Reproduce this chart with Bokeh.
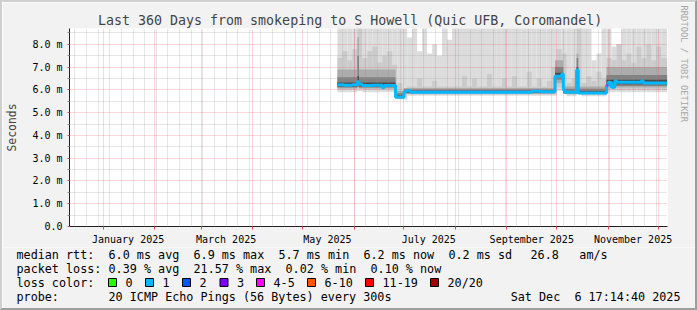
import numpy as np
import pandas as pd
from bokeh.plotting import figure
from bokeh.layouts import column
from bokeh.models import FixedTicker, Range1d, Title
from bokeh.embed import file_html
from bokeh.resources import INLINE
from bokeh.core.properties import value

# ---------------- data ----------------
graph_start = "2024-12-11 17:14:40"
graph_end = "2025-12-06 17:14:40"
title = "Last 360 Days from smokeping to S Howell (Quic UFB, Coromandel)"
watermark = "RRDTOOL / TOBI OETIKER"

y_ticks = [0, 1, 2, 3, 4, 5, 6, 7, 8]
y_minor = [0.5, 1.5, 2.5, 3.5, 4.5, 5.5, 6.5, 7.5, 8.5]
y_tick_labels = ["0.0", "1.0 m", "2.0 m", "3.0 m", "4.0 m", "5.0 m", "6.0 m", "7.0 m", "8.0 m"]
month_labels = ["January 2025", "March 2025", "May 2025", "July 2025",
                "September 2025", "November 2025"]
month_label_dates = ["2025-01-16", "2025-03-16", "2025-05-16", "2025-07-16",
                     "2025-09-16", "2025-11-16"]

# median RTT (ms): value from each date until the next
med_dates = ["2025-05-22", "2025-05-26", "2025-05-31", "2025-06-03", "2025-06-04",
             "2025-06-06", "2025-06-12", "2025-06-18", "2025-06-19", "2025-06-26",
             "2025-07-01", "2025-07-02", "2025-07-05", "2025-09-16", "2025-09-22",
             "2025-09-30", "2025-10-04", "2025-10-05", "2025-10-06", "2025-10-13",
             "2025-10-14", "2025-10-31", "2025-11-01", "2025-11-03", "2025-11-05",
             "2025-11-06", "2025-11-21", "2025-11-22"]
med_values = [6.22, 6.20, 6.23, 6.36, 6.25,
              6.19, 6.20, 6.09, 6.19, 5.68,
              5.90, 5.96, 5.90, 5.94, 5.92,
              6.60, 6.70, 6.00, 5.90, 6.87,
              5.86, 6.20, 6.32, 6.12, 6.40,
              6.33, 6.40, 6.30]
med_loss = [1, 1, 1, 1, 1, 1, 1, 1, 1, 1, 1, 1, 1, 1, 1, 1, 1, 1, 1, 1,
            1, 4, 1, 1, 1, 1, 1, 1]
data_end = "2025-12-06 12:00"

# smoke (sorted pings, ms) for spans of similar behaviour
smoke_dates = ["2025-05-22", "2025-06-03", "2025-06-04", "2025-06-26", "2025-07-01",
               "2025-09-30", "2025-10-05", "2025-10-13", "2025-10-14", "2025-10-31"]
ping1 = [5.90, 5.95, 5.90, 5.58, 5.74, 5.95, 5.72, 5.80, 5.72, 5.90]
ping3 = [6.00, 6.05, 6.00, 5.62, 5.80, 6.10, 5.78, 5.90, 5.78, 6.00]
ping5 = [6.06, 6.10, 6.06, 5.64, 5.83, 6.30, 5.82, 6.00, 5.82, 6.10]
ping7 = [6.10, 6.15, 6.10, 5.66, 5.85, 6.45, 5.85, 6.20, 5.85, 6.17]
ping9 = [6.15, 6.25, 6.15, 5.67, 5.87, 6.55, 5.86, 6.50, 5.86, 6.25]
ping12 = [6.32, 6.60, 6.32, 5.75, 5.96, 6.75, 5.95, 7.00, 5.95, 6.45]
ping15 = [6.55, 7.50, 6.55, 5.85, 6.02, 7.00, 6.05, 7.40, 6.05, 6.65]
ping17 = [6.90, 8.30, 6.90, 5.95, 6.08, 7.30, 6.15, 7.60, 6.15, 7.00]

# 3-day buckets starting 2025-05-22: second highest and highest ping (ms)
bucket_start = "2025-05-22"
ping19 = [7.4, 7.7, 7.3, 7.8, 8.7, 7.4, 7.7, 7.9, 7.2, 7.5,
          7.7, 7.1, 6.3, 6.0, 6.15, 6.15, 6.5, 6.15, 6.15, 6.4,
          6.15, 6.15, 6.15, 6.15, 6.15, 6.6, 6.15, 6.5, 6.15, 6.15,
          6.7, 6.15, 6.15, 6.5, 6.15, 6.6, 6.15, 6.15, 6.8, 6.15,
          6.5, 6.15, 6.4, 7.0, 7.8, 7.6, 6.3, 6.5, 8.7, 6.3,
          6.6, 6.4, 6.8, 6.5, 7.4, 7.3, 8.0, 7.3, 7.6, 7.2,
          7.9, 7.4, 8.0, 7.3, 7.9, 7.4]
ping20 = [9.0, 9.0, 9.0, 9.0, 9.0, 9.0, 9.0, 9.0, 9.0, 9.0,
          9.0, 9.0, 9.0, 9.0, 8.3, 9.0, 7.7, 9.0, 7.6, 8.0,
          7.5, 9.0, 8.2, 9.0, 9.0, 9.0, 9.0, 9.0, 9.0, 9.0,
          9.0, 9.0, 9.0, 9.0, 9.0, 9.0, 9.0, 9.0, 9.0, 9.0,
          9.0, 9.0, 9.0, 9.0, 9.0, 9.0, 9.0, 9.0, 9.0, 9.0,
          9.0, 7.3, 7.6, 9.0, 9.0, 7.9, 8.0, 9.0, 9.0, 9.0,
          9.0, 9.0, 9.0, 9.0, 9.0, 9.0]

loss_labels = ["0", "1", "2", "3", "4-5", "6-10", "11-19", "20/20"]
loss_colors = ["#26ff00", "#00b8ff", "#0059ff", "#7e00ff", "#ff00ff", "#ff5500",
               "#ff0000", "#a10000"]

legend_rtt = ["median rtt:", "6.0 ms avg", "6.9 ms max", "5.7 ms min", "6.2 ms now",
              "0.2 ms sd", "26.8", "am/s"]
legend_loss = ["packet loss:", "0.39 % avg", "21.57 % max", "0.02 % min", "0.10 % now"]
legend_color = ["loss color:"]
legend_probe = ["probe:", "20 ICMP Echo Pings (56 Bytes) every 300s"]
legend_date = "Sat Dec  6 17:14:40 2025"


def to_ms(values):
    return (pd.to_datetime(values).asi8 // 10**6).astype(float)


MONO = "DejaVu Sans Mono"
BG = "#f2f2f2"

# ---------------- main graph ----------------
t0, t1 = to_ms([graph_start, graph_end])
pa = figure(width=693, height=245, output_backend="svg", toolbar_location=None,
            x_range=Range1d(t0, t1), y_range=Range1d(0, 200 / 23),
            min_border_left=65, min_border_right=28, min_border_top=26,
            min_border_bottom=19)
pa.background_fill_color = "white"
pa.border_fill_color = BG
pa.outline_line_color = None

pa.title.text = title
pa.title.text_font = MONO
pa.title.text_font_size = "13.3px"
pa.title.text_font_style = "normal"
pa.title.align = "left"
pa.title.offset = 28.5
pa.title.standoff = 2
# an empty spacer pushes the watermark towards the outer edge
pa.add_layout(Title(text="\u00a0", text_font_size="1px", standoff=5), "right")
pa.add_layout(Title(text=watermark, text_font=MONO, text_font_size="8.8px",
                    text_font_style="normal", text_color="#a8a8a8", align="left",
                    vertical_align="top", offset=-23, standoff=2), "right")

# smoke
sm_left = to_ms(smoke_dates)
sm_right = np.append(sm_left[1:], to_ms([data_end]))
bk_left = to_ms(pd.date_range(bucket_start, periods=len(ping20), freq="3D"))
bk_right = np.append(bk_left[1:], to_ms([data_end]))
idx = np.searchsorted(sm_left, bk_left, side="right") - 1
pa.quad(left=bk_left, right=bk_right, bottom=np.array(ping1)[idx], top=ping20,
        fill_color="#dcdcdc", line_color=None)
pa.quad(left=bk_left, right=bk_right, bottom=np.array(ping3)[idx], top=ping19,
        fill_color="#cbcbcb", line_color=None)
for lo, hi, col in [(ping5, ping17, "#acacac"), (ping7, ping15, "#828282"),
                    (ping9, ping12, "#4a4a4a")]:
    pa.quad(left=sm_left, right=sm_right, bottom=lo, top=hi, fill_color=col,
            line_color=None)

# median line coloured by loss
md_left = to_ms(med_dates)
md_right = np.append(md_left[1:], to_ms([data_end]))
r = pa.step(x=np.append(md_left, md_right[-1]), y=med_values + [med_values[-1]],
            mode="after", line_color=loss_colors[1], line_width=3)
r.level = "overlay"
oth = [i for i, c in enumerate(med_loss) if c != 1]
r2 = pa.segment(x0=md_left[oth], x1=md_right[oth], y0=np.array(med_values)[oth],
                y1=np.array(med_values)[oth],
                line_color=[loss_colors[med_loss[i]] for i in oth], line_width=3)
r2.level = "overlay"

# grids
month_starts = to_ms(pd.date_range("2025-01-01", "2025-12-01", freq="MS"))
weeks = to_ms(pd.date_range("2024-12-15", "2025-12-06", freq="7D"))
pa.xgrid.ticker = FixedTicker(ticks=list(month_starts), minor_ticks=list(weeks))
pa.ygrid.ticker = FixedTicker(ticks=y_ticks, minor_ticks=y_minor)
for g in (pa.xgrid, pa.ygrid):
    g.level = "annotation"
    g.grid_line_color = "#de4f4f"
    g.grid_line_alpha = 0.45
    g.grid_line_dash = "1 1"
    g.minor_grid_line_color = "#8f8f8f"
    g.minor_grid_line_alpha = 0.45
    g.minor_grid_line_dash = "1 1"

# axes
xa = pa.xaxis[0]
label_ms = to_ms(month_label_dates)
xa.ticker = FixedTicker(ticks=list(label_ms), minor_ticks=list(month_starts))
xa.major_label_overrides = {float(v): s for v, s in zip(label_ms, month_labels)}
xa.major_tick_out = 0
xa.major_tick_in = 0
xa.minor_tick_out = 3
xa.minor_tick_in = 0
xa.minor_tick_line_color = "#de4f4f"
xa.major_label_standoff = 4
ya = pa.yaxis[0]
ya.ticker = FixedTicker(ticks=y_ticks, minor_ticks=y_minor)
ya.major_label_overrides = {v: s for v, s in zip(y_ticks, y_tick_labels)}
ya.major_tick_out = 2
ya.major_tick_in = 0
ya.minor_tick_out = 2
ya.minor_tick_in = 0
ya.major_tick_line_color = "#de4f4f"
ya.minor_tick_line_color = "#8f8f8f"
ya.major_label_standoff = 5
ya.axis_label = "Seconds"
ya.axis_label_standoff = 10
ya.axis_label_text_font = MONO
ya.axis_label_text_font_size = "11.4px"
ya.axis_label_text_font_style = "normal"
for ax in (xa, ya):
    ax.axis_line_color = "#1f1f1f"
    ax.major_label_text_font = MONO
    ax.major_label_text_font_size = "10px"
    ax.major_label_text_color = "black"

# ---------------- legend strip (page pixel coordinates) ----------------
pb = figure(frame_width=693, frame_height=61, output_backend="svg",
            toolbar_location=None, x_range=Range1d(2, 695), y_range=Range1d(308, 247),
            min_border_left=0, min_border_right=0, min_border_top=0,
            min_border_bottom=0, x_axis_type=None, y_axis_type=None)
for plot in (pa, pb):
    try:
        plot.frame_align = False
    except AttributeError:
        pass
pb.background_fill_color = BG
pb.border_fill_color = BG
pb.outline_line_color = None

CW = 7.08  # character advance of the legend font
txt = dict(text_font=value(MONO), text_font_size="11.76px", text_baseline="middle",
           text_color="black")
rows = [(legend_rtt, [0, 13, 25, 37, 49, 61, 72.6, 79.5], 254),
        (legend_loss, [0, 13, 25, 38, 50], 268),
        (legend_color, [0], 282),
        (legend_probe, [0, 13], 296)]
for items, cols, yy in rows:
    pb.text(x=[16 + c * CW for c in cols], y=[yy] * len(items), text=items, **txt)
pb.text(x=[680], y=[296], text=[legend_date.replace("  ", " \u00a0")],
        text_align="right", **txt)
box_x = np.array([108, 145, 182, 219.5, 256, 307, 365, 430])
pb.quad(left=box_x, right=box_x + 8, top=278, bottom=286, fill_color=loss_colors,
        line_color="black", line_width=1)
pb.text(x=box_x + 17, y=[282] * len(box_x), text=loss_labels, **txt)

layout = column(pa, pb, styles={"border-style": "solid", "border-width": "2px",
                                "border-color": "#cfcfcf #9e9e9e #9e9e9e #cfcfcf",
                                "box-sizing": "content-box"})

open("out.html", "w").write(file_html(layout, INLINE))
